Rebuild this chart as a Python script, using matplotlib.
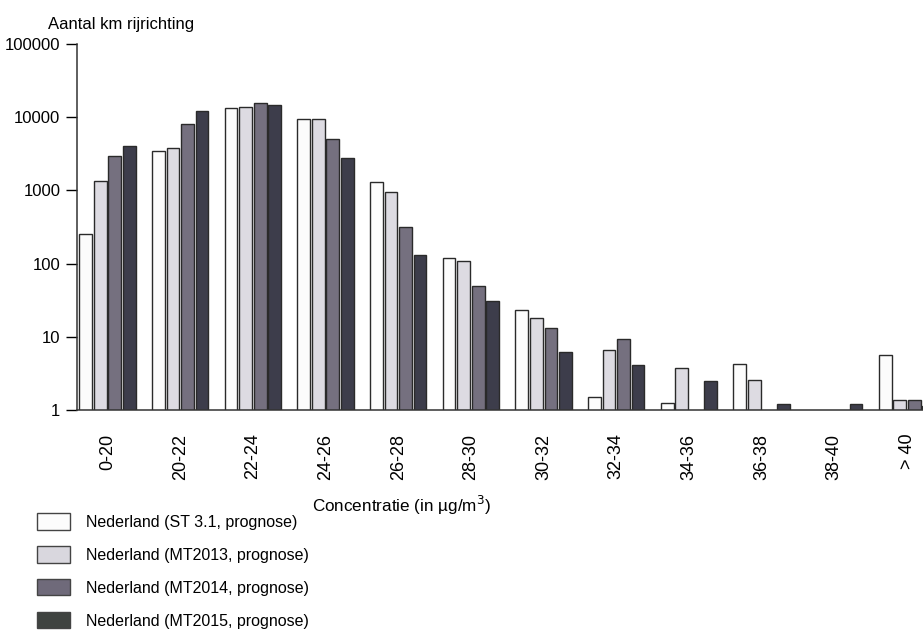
import numpy as np
import matplotlib
matplotlib.use('Agg')
import matplotlib.pyplot as plt
from matplotlib.patches import Patch

plt.rcParams['font.family'] = ['Liberation Sans', 'DejaVu Sans']

# Data (aantal km rijrichting per concentratieklasse)
categories = ['0-20', '20-22', '22-24', '24-26', '26-28', '28-30',
              '30-32', '32-34', '34-36', '36-38', '38-40', '> 40']
st31 = [250, 3500, 13500, 9500, 1300, 120, 23, 1.5, 1.25, 4.2, np.nan, 5.6]
mt2013 = [1330, 3800, 14000, 9500, 950, 110, 18, 6.6, 3.8, 2.6, np.nan, 1.35]
mt2014 = [2950, 8000, 15500, 5100, 320, 50, 13, 9.4, np.nan, np.nan, np.nan, 1.35]
mt2015 = [4050, 12000, 14500, 2750, 132, 31, 6.2, 4.1, 2.5, 1.2, 1.2, 1.15]

series = [st31, mt2013, mt2014, mt2015]
labels = ['Nederland (ST 3.1, prognose)', 'Nederland (MT2013, prognose)',
          'Nederland (MT2014, prognose)', 'Nederland (MT2015, prognose)']
colors = ['#fcfcfc', '#dddbe2', '#75707f', '#3d3d4b']
legend_colors = ['#fcfcfc', '#d9d7de', '#6f6a7a', '#3f4340']

fig = plt.figure(figsize=(9.23, 6.36), dpi=100)
ax = fig.add_axes([77 / 923, 1 - 410 / 636, 1 - 77 / 923, 366 / 636])

x = np.arange(len(categories))
offsets = [-0.3, -0.1, 0.1, 0.3]
for vals, off, c in zip(series, offsets, colors):
    ax.bar(x + off, vals, width=0.175, color=c,
           edgecolor='#2a2a2a', linewidth=1.0)

ax.set_yscale('log')
ax.set_ylim(1, 100000)
ax.set_xlim(-0.42, 11.22)
ax.set_yticks([1, 10, 100, 1000, 10000, 100000])
ax.set_yticklabels(['1', '10', '100', '1000', '10000', '100000'])
ax.yaxis.set_minor_locator(matplotlib.ticker.NullLocator())
ax.tick_params(axis='y', length=8, width=1, labelsize=12, pad=4, direction='out')
ax.set_xticks(x)
ax.set_xticklabels(categories, rotation=90, fontsize=13)
ax.tick_params(axis='x', length=0, pad=17)

for s in ['top', 'right']:
    ax.spines[s].set_visible(False)
for s in ['left', 'bottom']:
    ax.spines[s].set_linewidth(1.1)
    ax.spines[s].set_color('#333333')

fig.text(48 / 923, 1 - 25 / 636, 'Aantal km rijrichting', fontsize=12,
         va='center', ha='left')
fig.text(402 / 923, 1 - 505 / 636, 'Concentratie (in µg/m$^3$)', fontsize=12.3,
         va='center', ha='center')

handles = [Patch(facecolor=c, edgecolor='#444444', linewidth=1.0) for c in legend_colors]
fig.legend(handles, labels, loc='upper left', bbox_to_anchor=(31 / 923, 1 - 507 / 636),
           frameon=False, fontsize=11.5, handlelength=2.05, handleheight=1.2,
           labelspacing=1.02, handletextpad=1.0, borderaxespad=0)

fig.savefig('out.png', dpi=100)
